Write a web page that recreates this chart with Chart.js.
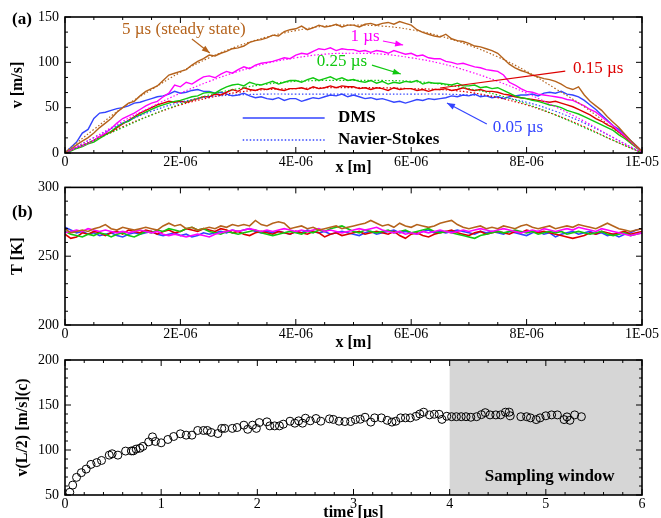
<!DOCTYPE html>
<html>
<head>
<meta charset="utf-8">
<script src="https://cdn.jsdelivr.net/npm/chart.js@4.4.0/dist/chart.umd.min.js"></script>
<style>
  body { margin: 0; background: #fff; }
  #wrap { position: relative; width: 661px; height: 518px; overflow: hidden; }
  canvas { position: absolute; left: 0; }
</style>
</head>
<body>
<div id="wrap">
  <canvas id="chartA" width="661" height="180" style="top:0px"></canvas>
  <canvas id="chartB" width="661" height="179" style="top:173px"></canvas>
  <canvas id="chartC" width="661" height="178" style="top:340px"></canvas>
</div>
<script>
// ---- data: panel (a) velocity profiles, DMS every 0.1 um ----
const xTickValues = [0, 2e-6, 4e-6, 6e-6, 8e-6, 1e-5];
const xTickLabels = ['0', '2E-06', '4E-06', '6E-06', '8E-06', '1E-05'];
const vTickValues = [0, 50, 100, 150];
const tTickValues = [200, 250, 300];

const vDms5us = [1,4,9,13,17,22,28,33,38,45,50,55,57,63,68,71,74,80,86,88,90,92,97,101,104,108,107,110,112,115,116,118,122,124,125,127,130,129,134,136,137,140,136,138,141,139,140,142,139,141,141,139,142,143,141,143,144,142,145,143,141,136,133,131,129,128,131,126,124,123,121,118,117,115,113,110,104,98,94,91,89,86,84,82,81,79,76,72,70,73,64,57,52,47,40,34,28,21,14,8,2];
const vDms1us = [0,3,6,8,11,14,18,22,27,33,38,41,44,48,52,55,57,62,66,75,73,78,76,80,84,85,83,87,90,88,92,95,93,97,99,100,101,103,105,104,108,110,109,112,115,114,116,113,115,114,114,112,113,111,113,112,110,113,111,109,110,107,108,105,104,104,101,100,98,99,97,95,94,92,91,90,86,78,75,71,68,67,65,64,63,62,61,59,58,55,52,48,45,40,35,30,24,19,13,7,1];
const vDms025us = [0,2,5,7,10,12,16,20,24,29,33,35,39,42,45,48,51,53,55,57,58,60,62,63,66,67,66,70,73,75,76,74,78,76,75,77,79,76,78,80,80,78,81,83,80,82,84,81,83,80,81,79,78,80,77,79,76,78,77,79,78,80,76,78,77,77,76,75,77,74,74,75,72,73,71,72,69,66,63,61,60,58,57,55,53,52,50,47,45,43,40,37,34,31,28,25,20,16,11,6,1];
const vDms015us = [0,3,6,8,11,14,18,21,23,28,32,36,40,44,47,50,53,55,57,56,57,56,58,60,62,62,65,64,67,70,68,72,70,69,71,70,72,70,69,71,71,72,70,73,71,72,74,72,74,73,73,71,72,70,72,71,69,72,70,71,71,69,70,68,70,70,71,69,70,72,70,69,70,68,68,67,65,64,62,61,60,59,58,57,56,57,55,53,51,48,45,42,38,35,31,28,23,18,12,7,1];
const vDms005us = [0,6,12,22,26,38,44,45,47,49,50,52,55,56,58,60,62,63,65,68,66,67,69,70,68,68,66,67,65,63,64,66,63,61,62,60,59,61,58,60,60,57,59,61,60,62,64,63,65,62,64,62,60,61,59,60,58,56,57,55,57,59,58,60,59,60,61,63,62,64,63,65,62,63,61,62,60,62,63,64,64,65,63,66,67,66,68,65,64,62,58,53,48,42,36,30,26,20,14,8,2];

// Navier-Stokes profiles, every 0.5 um
const vNs5us   = [1,26,50,70,89,105,118,128,135,140,141,140,136,129,119,106,90,71,51,27,1];
const vNs1us   = [0,17,35,51,66,79,90,99,105,109,110,109,105,99,90,79,66,51,35,17,0];
const vNs025us = [0,14,28,42,54,64,71,76,79,80,80,80,79,76,71,64,54,42,28,14,0];
const vNs015us = [0,14,29,42,53,61,67,70,71,72,72,72,71,70,67,61,53,42,29,14,0];
const vNs005us = [0,17,33,46,56,62,64,65,65,65,65,65,65,65,64,62,56,46,33,17,0];

// ---- data: panel (b) temperature, every 0.1 um ----
const tDms5us = [270,267,268,269,268,270,271,273,270,269,271,270,269,270,271,270,269,272,274,272,273,270,271,269,270,271,270,272,271,273,272,273,272,276,273,272,274,275,274,270,271,272,270,271,269,270,271,272,270,271,272,273,274,276,274,272,273,271,274,272,271,273,272,271,272,274,275,276,273,271,270,271,272,270,271,270,272,271,270,272,273,271,270,271,272,270,271,272,271,273,272,271,270,272,274,272,270,269,268,269,270];
const tDms1us = [267,268,269,268,270,269,268,269,268,267,268,267,268,269,268,267,268,266,265,266,265,264,265,266,265,264,266,267,268,269,268,269,270,269,268,269,268,269,270,269,268,269,268,269,270,268,269,268,267,268,269,270,269,270,271,269,268,267,268,266,267,266,268,267,268,269,268,267,268,269,268,269,270,269,268,269,270,269,268,267,268,269,268,270,269,268,269,270,269,271,270,269,268,270,269,268,267,266,265,266,267];
const tDms025us = [268,266,265,264,266,265,267,266,264,266,267,265,264,266,268,267,269,268,270,269,268,270,271,269,270,268,267,266,268,267,266,267,268,269,267,266,265,266,267,268,267,266,268,267,269,268,270,271,272,270,268,267,269,268,267,268,269,267,268,269,267,268,269,270,268,267,268,267,266,265,264,263,265,266,267,268,267,268,269,268,267,268,266,267,268,267,268,266,267,268,267,266,267,268,266,265,266,267,265,266,267];
const tDms015us = [266,263,264,267,266,268,267,265,267,268,266,269,268,267,269,268,266,268,269,267,268,270,269,268,270,269,268,270,269,267,268,266,265,267,268,267,266,268,267,266,268,267,266,268,267,264,266,267,265,266,267,268,266,267,268,267,266,268,265,263,266,267,265,264,266,267,268,269,267,266,265,267,268,266,267,268,267,266,268,267,269,268,267,268,267,266,265,264,263,264,265,267,266,268,267,266,267,268,266,267,268];
const tDms005us = [271,269,267,268,266,267,265,266,267,265,264,266,267,266,267,268,266,265,266,267,265,266,264,265,267,266,267,268,267,269,268,269,270,268,267,268,267,268,267,266,268,267,269,268,267,268,266,267,268,267,266,265,267,268,266,267,268,269,267,268,267,266,268,269,267,268,267,268,269,268,267,266,268,267,268,267,266,268,267,266,265,267,268,266,267,264,266,267,268,266,267,268,266,267,265,266,264,266,267,269,270];

// ---- data: panel (c) centreline velocity vs time ----
const timeUs = [0.05,0.08,0.12,0.17,0.22,0.27,0.33,0.38,0.46,0.49,0.55,0.63,0.69,0.71,0.74,0.78,0.81,0.87,0.91,0.94,1.0,1.07,1.13,1.2,1.26,1.32,1.38,1.44,1.48,1.52,1.59,1.63,1.66,1.74,1.79,1.86,1.9,1.95,1.99,2.02,2.1,2.13,2.18,2.23,2.27,2.34,2.39,2.43,2.47,2.5,2.55,2.61,2.66,2.75,2.79,2.85,2.91,2.97,3.02,3.07,3.12,3.18,3.22,3.29,3.35,3.4,3.44,3.49,3.54,3.59,3.65,3.69,3.73,3.79,3.84,3.89,3.92,3.97,4.02,4.07,4.12,4.17,4.22,4.28,4.33,4.37,4.42,4.48,4.53,4.58,4.62,4.63,4.74,4.8,4.84,4.9,4.94,5.0,5.06,5.12,5.19,5.22,5.25,5.3,5.37];
const vMid = [53,61,69.6,74.8,78.8,84,86,88.4,94.3,95.8,94.3,98.8,99,99,101,102,104,109,114.6,109.5,108,111.7,115,118,116.5,116.5,121.7,121.7,121.7,119.5,118.3,124,124,124,125,127.6,123,127.6,124,130.5,131.3,126.8,126.8,126.8,128.7,132,129.8,132.4,129.8,135.3,132.4,135,132,134.6,134,132,131.6,131.6,133.8,134.2,136.4,131,135.7,135.7,133,131,132,135.7,135.7,135.7,137.5,140,142,139,139.7,139.7,134,137.5,137,137,137,137,136.4,137,139.3,141.5,139,139,139,142,142,138,137,137,135.7,133.8,135.7,138,139,139,133.8,136.8,133,139,137];

const brown = '#b5631c', magenta = '#ff00ff', green = '#10c810', red = '#dd0000', blue = '#3344ff';

Chart.defaults.font.family = "'Liberation Serif', 'Times New Roman', serif";
Chart.defaults.color = '#000';

const xDms = vDms5us.map((_, i) => i * 1e-7);
const xNs = vNs5us.map((_, i) => i * 5e-7);
const pts = (xs, ys) => ys.map((v, i) => ({ x: xs[i], y: v }));

// frame + inward major/minor ticks on all four sides
const frameTicks = {
  id: 'frameTicks',
  afterDraw(chart, args, o) {
    const { ctx, chartArea: a, scales: { x, y } } = chart;
    ctx.save();
    ctx.strokeStyle = '#000';
    ctx.lineWidth = 1;
    const side = (scale, minor, major, horiz) => {
      const n = Math.round((scale.max - scale.min) / minor);
      for (let i = 0; i <= n; i++) {
        const v = scale.min + i * minor;
        const r = v / major;
        const len = Math.abs(r - Math.round(r)) < 1e-3 ? 6 : 3;
        const p = scale.getPixelForValue(v);
        ctx.beginPath();
        if (horiz) {
          ctx.moveTo(p, a.bottom); ctx.lineTo(p, a.bottom - len);
          ctx.moveTo(p, a.top); ctx.lineTo(p, a.top + len);
        } else {
          ctx.moveTo(a.left, p); ctx.lineTo(a.left + len, p);
          ctx.moveTo(a.right, p); ctx.lineTo(a.right - len, p);
        }
        ctx.stroke();
      }
    };
    side(x, o.xMinor, o.xMajor, true);
    side(y, o.yMinor, o.yMajor, false);
    ctx.lineWidth = 1.6;
    ctx.strokeRect(a.left, a.top, a.right - a.left, a.bottom - a.top);
    ctx.restore();
  }
};

// text, arrows and legend placed in data coordinates
function drawArrow(ctx, x1, y1, x2, y2, color, head) {
  ctx.strokeStyle = color; ctx.fillStyle = color; ctx.lineWidth = 1.2;
  ctx.beginPath(); ctx.moveTo(x1, y1); ctx.lineTo(x2, y2); ctx.stroke();
  if (!head) return;
  const ang = Math.atan2(y2 - y1, x2 - x1), L = 8, W = 3;
  ctx.beginPath();
  ctx.moveTo(x2, y2);
  ctx.lineTo(x2 - L * Math.cos(ang) + W * Math.sin(ang), y2 - L * Math.sin(ang) - W * Math.cos(ang));
  ctx.lineTo(x2 - L * Math.cos(ang) - W * Math.sin(ang), y2 - L * Math.sin(ang) + W * Math.cos(ang));
  ctx.closePath(); ctx.fill();
}
const notes = {
  id: 'notes',
  afterDraw(chart, args, o) {
    const { ctx, scales: { x, y } } = chart;
    ctx.save();
    (o.texts || []).forEach(t => {
      ctx.font = t.font;
      ctx.fillStyle = t.color;
      ctx.textAlign = t.align || 'center';
      ctx.textBaseline = 'middle';
      ctx.fillText(t.text, x.getPixelForValue(t.x), y.getPixelForValue(t.y));
    });
    (o.arrows || []).forEach(r => drawArrow(ctx,
      x.getPixelForValue(r.from[0]), y.getPixelForValue(r.from[1]),
      x.getPixelForValue(r.to[0]), y.getPixelForValue(r.to[1]), r.color, r.head));
    (o.keys || []).forEach(k => {
      ctx.strokeStyle = k.color; ctx.lineWidth = 1.4;
      ctx.setLineDash(k.dash || []);
      ctx.beginPath();
      ctx.moveTo(x.getPixelForValue(k.x0), y.getPixelForValue(k.y));
      ctx.lineTo(x.getPixelForValue(k.x1), y.getPixelForValue(k.y));
      ctx.stroke();
      ctx.setLineDash([]);
    });
    (o.fixed || []).forEach(t => {
      ctx.font = t.font; ctx.fillStyle = '#000';
      ctx.textAlign = 'left'; ctx.textBaseline = 'middle';
      ctx.fillText(t.text, t.px, t.py);
    });
    ctx.restore();
  }
};

const shade = {
  id: 'shade',
  beforeDatasetsDraw(chart, args, o) {
    if (!o.from) return;
    const { ctx, chartArea: a, scales: { x } } = chart;
    const x0 = x.getPixelForValue(o.from), x1 = x.getPixelForValue(o.to);
    ctx.save();
    ctx.fillStyle = '#d6d6d6';
    ctx.fillRect(x0, a.top, x1 - x0, a.bottom - a.top);
    ctx.restore();
  }
};

function xAxis(height, title, titlePad) {
  return {
    type: 'linear', min: 0, max: 1e-5,
    afterBuildTicks: s => { s.ticks = xTickValues.map(v => ({ value: v })); },
    afterFit: s => { s.height = height; },
    ticks: { callback: (v, i) => xTickLabels[i], font: { size: 14 }, padding: 1, maxRotation: 0, autoSkip: false },
    grid: { display: false, drawTicks: false }, border: { display: false },
    title: { display: true, text: title, font: { size: 16, weight: 'bold' }, padding: { top: 0, bottom: titlePad } }
  };
}
function yAxis(min, max, values, title, titlePad) {
  return {
    type: 'linear', min: min, max: max,
    afterBuildTicks: s => { s.ticks = values.map(v => ({ value: v })); },
    afterFit: s => { s.width = 65; },
    ticks: { font: { size: 14 }, padding: 6 },
    grid: { display: false, drawTicks: false }, border: { display: false },
    title: { display: true, text: title, font: { size: 16, weight: 'bold' }, padding: { top: titlePad, bottom: 0 } }
  };
}
function line(data, color, dotted, width) {
  return {
    data: data, borderColor: color, backgroundColor: color,
    borderWidth: dotted ? 1.2 : (width || 1.4), borderDash: dotted ? [1.5, 2] : [],
    pointRadius: 0, tension: dotted ? 0.4 : 0, showLine: true
  };
}
const common = { responsive: false, animation: false, plugins: { legend: { display: false }, tooltip: { enabled: false } } };

// ---- panel (a) ----
new Chart(document.getElementById('chartA'), {
  type: 'scatter',
  data: { datasets: [
    line(pts(xNs, vNs5us), brown, true),
    line(pts(xNs, vNs1us), magenta, true),
    line(pts(xNs, vNs025us), green, true),
    line(pts(xNs, vNs015us), red, true),
    line(pts(xNs, vNs005us), blue, true),
    line(pts(xDms, vDms5us), brown),
    line(pts(xDms, vDms1us), magenta),
    line(pts(xDms, vDms025us), green),
    line(pts(xDms, vDms015us), red),
    line(pts(xDms, vDms005us), blue)
  ] },
  options: { ...common,
    layout: { padding: { top: 17, right: 19, left: 0, bottom: 0 } },
    scales: { x: xAxis(27, 'x [m]', 3), y: yAxis(0, 150, vTickValues, 'v [m/s]', 8) },
    plugins: { ...common.plugins,
      frameTicks: { xMinor: 5e-7, xMajor: 2e-6, yMinor: 50 / 3, yMajor: 50 },
      notes: {
        texts: [
          { text: '5 µs (steady state)', x: 2.06e-6, y: 135.7, color: brown, font: '17px "Liberation Serif"' },
          { text: '1 µs', x: 5.2e-6, y: 128, color: magenta, font: '17px "Liberation Serif"' },
          { text: '0.25 µs', x: 4.8e-6, y: 100.4, color: green, font: '17px "Liberation Serif"' },
          { text: '0.15 µs', x: 9.24e-6, y: 93.7, color: red, font: '17px "Liberation Serif"' },
          { text: '0.05 µs', x: 7.85e-6, y: 27.6, color: blue, font: '17px "Liberation Serif"' },
          { text: 'DMS', x: 4.73e-6, y: 38.6, color: '#000', align: 'left', font: 'bold 17px "Liberation Serif"' },
          { text: 'Navier-Stokes', x: 4.73e-6, y: 14.3, color: '#000', align: 'left', font: 'bold 17px "Liberation Serif"' }
        ],
        arrows: [
          { from: [2.2e-6, 125.7], to: [2.51e-6, 110.3], color: brown, head: true },
          { from: [5.51e-6, 123.5], to: [5.86e-6, 119.1], color: magenta, head: true },
          { from: [5.32e-6, 97], to: [5.82e-6, 87.1], color: green, head: true },
          { from: [8.67e-6, 90.4], to: [6.5e-6, 71.7], color: red, head: false },
          { from: [7.31e-6, 32], to: [6.62e-6, 55.1], color: blue, head: true }
        ],
        keys: [
          { x0: 3.08e-6, x1: 4.5e-6, y: 38.6, color: blue },
          { x0: 3.08e-6, x1: 4.5e-6, y: 14.3, color: blue, dash: [1.5, 2] }
        ],
        fixed: [{ text: '(a)', px: 12, py: 20, font: 'bold 17px "Liberation Serif"' }]
      }
    }
  },
  plugins: [frameTicks, notes]
});

// ---- panel (b) ----
new Chart(document.getElementById('chartB'), {
  type: 'scatter',
  data: { datasets: [
    line(pts(xDms, tDms5us), brown, false, 1.6),
    line(pts(xDms, tDms1us), magenta, false, 1.6),
    line(pts(xDms, tDms025us), green, false, 1.6),
    line(pts(xDms, tDms015us), red, false, 1.6),
    line(pts(xDms, tDms005us), blue, false, 1.6)
  ] },
  options: { ...common,
    layout: { padding: { top: 0, right: 19, left: 0, bottom: 0 } },
    scales: { x: xAxis(27, 'x [m]', 0), y: yAxis(200, 300, tTickValues, 'T [K]', 8) },
    plugins: { ...common.plugins,
      frameTicks: { xMinor: 5e-7, xMajor: 2e-6, yMinor: 10, yMajor: 50 },
      notes: { fixed: [{ text: '(b)', px: 12, py: 40, font: 'bold 17px "Liberation Serif"' }] }
    }
  },
  plugins: [frameTicks, notes]
});

// ---- panel (c) ----
new Chart(document.getElementById('chartC'), {
  type: 'scatter',
  data: { datasets: [{
    data: pts(timeUs, vMid),
    pointStyle: 'circle', pointRadius: 4, borderWidth: 1,
    borderColor: '#000', backgroundColor: 'rgba(0,0,0,0)', showLine: false
  }] },
  options: { ...common,
    layout: { padding: { top: 20, right: 19, left: 0, bottom: 0 } },
    scales: {
      x: {
        type: 'linear', min: 0, max: 6,
        afterBuildTicks: s => { s.ticks = [0, 1, 2, 3, 4, 5, 6].map(v => ({ value: v })); },
        afterFit: s => { s.height = 23; },
        ticks: { font: { size: 14 }, padding: 1, maxRotation: 0 },
        grid: { display: false, drawTicks: false }, border: { display: false },
        title: { display: true, text: 'time [µs]', font: { size: 16, weight: 'bold' }, padding: { top: 0, bottom: -4 } }
      },
      y: yAxis(50, 200, [50, 100, 150, 200], 'v(L/2) [m/s](c)', 13)
    },
    plugins: { ...common.plugins,
      frameTicks: { xMinor: 0.2, xMajor: 1, yMinor: 10, yMajor: 50 },
      shade: { from: 4, to: 6 },
      notes: { texts: [{ text: 'Sampling window', x: 5.04, y: 70, color: '#000', font: 'bold 17px "Liberation Serif"' }] }
    }
  },
  plugins: [shade, frameTicks, notes]
});
</script>
</body>
</html>
